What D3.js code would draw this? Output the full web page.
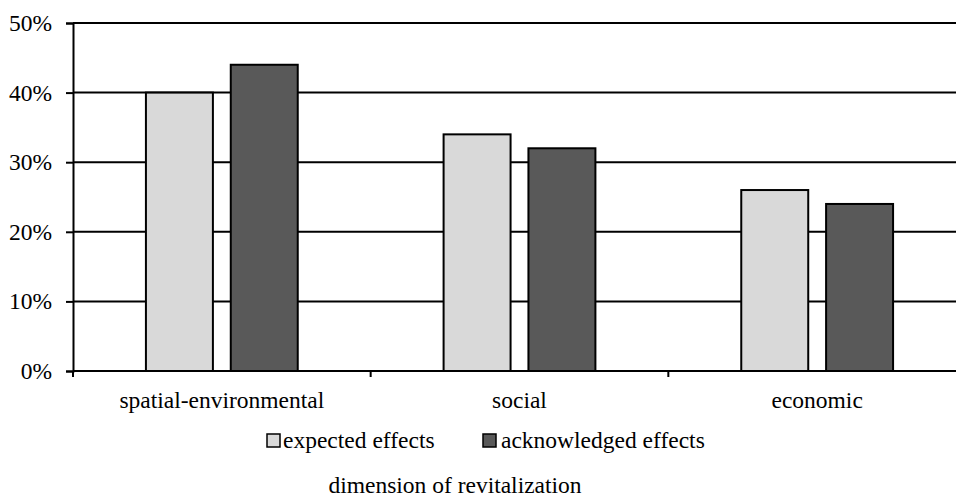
<!DOCTYPE html>
<html>
<head>
<meta charset="utf-8">
<script src="https://cdn.jsdelivr.net/npm/d3@7"></script>
<style>
  body { margin: 0; background: #fff; }
</style>
</head>
<body>
<script>
// data
const categories = ["spatial-environmental", "social", "economic"];
const seriesNames = ["expected effects", "acknowledged effects"];
const expected = [0.40, 0.34, 0.26];
const acknowledged = [0.44, 0.32, 0.24];
const yTicks = [0, 0.1, 0.2, 0.3, 0.4, 0.5];
const colors = ["#d9d9d9", "#595959"];

const width = 956, height = 497;
const plotLeft = 73, plotTop = 23, plotBottom = 371;
const plotRight = plotLeft + 893; // plot runs past the window edge, as in the picture
const font = "'Liberation Serif', 'Times New Roman', Times, serif";
const fontSize = "23.5px";

const svg = d3.select("body").append("svg")
	.attr("width", width)
	.attr("height", height);

const x = d3.scaleBand().domain(categories).range([plotLeft, plotRight]).padding(0);
const y = d3.scaleLinear().domain([0, 0.5]).range([plotBottom, plotTop]);

const bw = x.bandwidth();
const barW = bw * 0.225;
const gap = bw * 0.06;

//gridlines
svg.append("g")
	.selectAll("line")
	.data(yTicks.slice(1))
	.join("line")
	.attr("x1", plotLeft).attr("x2", plotRight)
	.attr("y1", d => y(d)).attr("y2", d => y(d))
	.attr("stroke", "#000")
	.attr("stroke-width", 2);

//y axis
const yAxis = svg.append("g")
	.attr("transform", `translate(${plotLeft},0)`)
	.call(d3.axisLeft(y).tickValues(yTicks).tickFormat(d3.format(".0%")).tickSize(7).tickPadding(14));
yAxis.attr("font-family", null).attr("font-size", null);
yAxis.select(".domain").attr("stroke-width", 2);
yAxis.selectAll(".tick line").attr("stroke-width", 2);
yAxis.selectAll("text")
	.style("font-family", font)
	.style("font-size", fontSize)
	.attr("fill", "#000");

//bars
const rows = categories.map((c, i) => ({cat: c, vals: [expected[i], acknowledged[i]]}));
const group = svg.append("g")
	.selectAll("g")
	.data(rows)
	.join("g");
group.selectAll("rect")
	.data(r => r.vals.map((v, k) => ({cat: r.cat, v, k})))
	.join("rect")
	.attr("x", d => {
		const c = x(d.cat) + bw / 2;
		return d.k === 0 ? c - gap / 2 - barW : c + gap / 2;
	})
	.attr("y", d => y(d.v))
	.attr("width", barW)
	.attr("height", d => y(0) - y(d.v))
	.attr("fill", d => colors[d.k])
	.attr("stroke", "#000")
	.attr("stroke-width", 2);

//x axis
const xAxis = svg.append("g")
	.attr("transform", `translate(0,${plotBottom})`);
xAxis.append("line")
	.attr("x1", plotLeft).attr("x2", plotRight)
	.attr("stroke", "#000").attr("stroke-width", 2);
xAxis.selectAll("line.tk")
	.data(categories.map(c => x(c)))
	.join("line")
	.attr("class", "tk")
	.attr("x1", d => d).attr("x2", d => d)
	.attr("y1", 0).attr("y2", 6)
	.attr("stroke", "#000").attr("stroke-width", 2);
xAxis.selectAll("text")
	.data(categories)
	.join("text")
	.attr("x", d => x(d) + bw / 2)
	.attr("y", 37)
	.attr("text-anchor", "middle")
	.style("font-family", font)
	.style("font-size", fontSize)
	.text(d => d);

//legend
const legendX = [267, 483];
const legend = svg.append("g")
	.selectAll("g")
	.data(seriesNames)
	.join("g")
	.attr("transform", (d, i) => `translate(${legendX[i]},434)`);
legend.append("rect")
	.attr("width", 13).attr("height", 13)
	.attr("fill", (d, i) => colors[i])
	.attr("stroke", "#000").attr("stroke-width", 1.5);
legend.append("text")
	.attr("x", (d, i) => i === 0 ? 16 : 18).attr("y", 14)
	.style("font-family", font)
	.style("font-size", fontSize)
	.text(d => d);

//axis title
svg.append("text")
	.attr("x", 455).attr("y", 493)
	.attr("text-anchor", "middle")
	.style("font-family", font)
	.style("font-size", fontSize)
	.text("dimension of revitalization");
</script>
</body>
</html>
